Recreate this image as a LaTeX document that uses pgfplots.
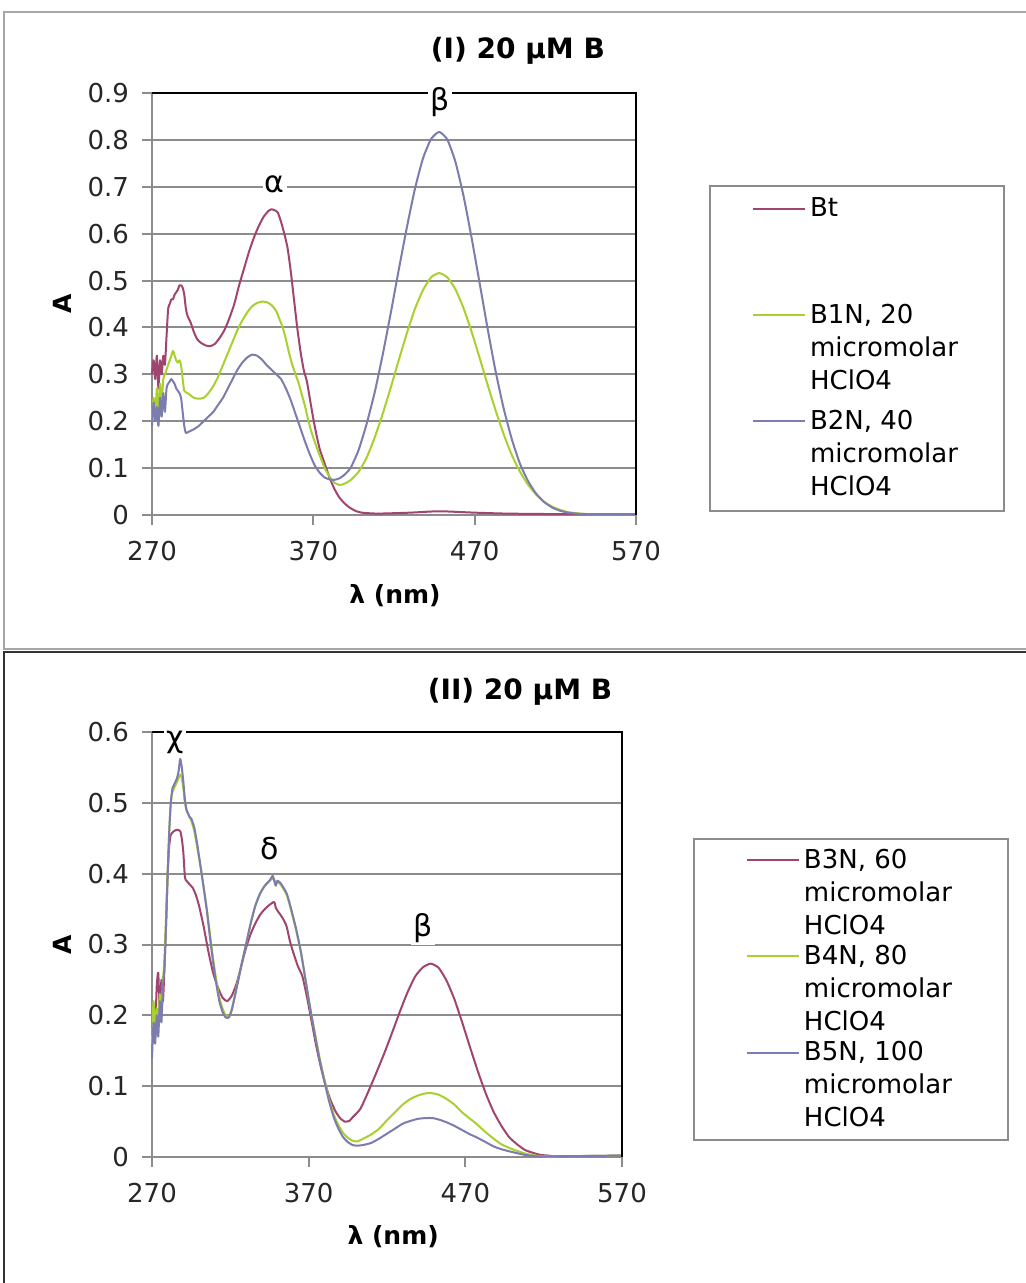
\documentclass[border=0pt]{standalone}
\usepackage{fontspec}
\setmainfont{DejaVu Sans}
\usepackage{pgfplots}
\usepackage{pgfplotstable}
\pgfplotsset{compat=1.18}

\definecolor{cA}{HTML}{A0456F}
\definecolor{cB}{HTML}{A9D12E}
\definecolor{cC}{HTML}{7C7CAF}
\definecolor{gridgray}{HTML}{8C8C8C}
\definecolor{framegray}{HTML}{A6A6A6}

% ---------- Panel I spectra ----------
\pgfplotstableread{
x y
270 0.30
271 0.33
272 0.29
273 0.34
274 0.27
275 0.33
276 0.30
277 0.34
278 0.32
279 0.38
280 0.44
281 0.45
282 0.46
283 0.46
284 0.47
285 0.475
286 0.48
287 0.49
288 0.49
289 0.485
290 0.47
291 0.44
292 0.425
294 0.41
296 0.39
298 0.375
300 0.368
303 0.362
306 0.36
309 0.365
312 0.378
315 0.395
318 0.42
321 0.45
324 0.49
327 0.525
330 0.56
333 0.59
336 0.615
339 0.635
342 0.648
344 0.652
346 0.65
348 0.645
350 0.625
352 0.60
354 0.57
356 0.52
358 0.46
360 0.40
362 0.35
364 0.31
366 0.285
368 0.245
370 0.205
372 0.17
374 0.14
376 0.12
378 0.10
380 0.08
383 0.056
386 0.038
389 0.026
392 0.017
396 0.009
400 0.005
410 0.003
430 0.005
448 0.008
470 0.005
490 0.003
520 0.002
570 0.002
}\tblBt

\pgfplotstableread{
x y
270 0.20
271 0.25
272 0.21
273 0.27
274 0.22
275 0.28
276 0.24
277 0.29
278 0.30
279 0.31
280 0.32
281 0.33
282 0.34
283 0.35
284 0.34
285 0.33
286 0.325
287 0.33
288 0.32
289 0.29
290 0.265
292 0.26
294 0.255
296 0.25
299 0.248
302 0.25
305 0.26
308 0.275
311 0.295
314 0.32
317 0.345
320 0.37
323 0.395
326 0.415
329 0.432
332 0.445
335 0.452
338 0.455
341 0.454
344 0.448
347 0.435
349 0.418
351 0.40
353 0.375
355 0.345
357 0.32
359 0.30
361 0.28
363 0.255
365 0.23
367 0.20
369 0.175
371 0.155
373 0.135
375 0.118
377 0.10
379 0.088
381 0.077
383 0.069
386 0.064
388 0.065
390 0.068
393 0.074
398 0.092
403 0.122
408 0.165
413 0.216
418 0.272
423 0.331
428 0.388
433 0.440
438 0.480
443 0.507
448 0.516
453 0.507
458 0.482
463 0.442
468 0.392
473 0.336
478 0.278
483 0.223
488 0.172
493 0.128
498 0.093
503 0.065
508 0.044
513 0.028
518 0.018
523 0.011
528 0.006
533 0.004
540 0.002
570 0.002
}\tblBoneN

\pgfplotstableread{
x y
270 0.19
271 0.24
272 0.20
273 0.23
274 0.19
275 0.25
276 0.21
277 0.26
278 0.22
279 0.27
280 0.28
281 0.285
282 0.29
283 0.285
284 0.28
285 0.27
286 0.265
287 0.26
288 0.25
289 0.22
290 0.19
291 0.175
293 0.178
296 0.183
299 0.19
302 0.20
305 0.21
308 0.22
311 0.235
314 0.25
317 0.27
320 0.29
323 0.31
326 0.325
329 0.336
332 0.342
335 0.34
338 0.332
341 0.32
344 0.31
347 0.30
350 0.29
353 0.27
356 0.245
359 0.215
362 0.185
365 0.155
368 0.128
371 0.105
374 0.09
377 0.08
380 0.076
383 0.075
386 0.078
389 0.085
393 0.100
398 0.138
403 0.194
408 0.261
413 0.342
418 0.431
423 0.524
428 0.614
433 0.696
438 0.761
443 0.802
448 0.817
453 0.801
458 0.754
463 0.682
468 0.593
473 0.496
478 0.398
483 0.306
488 0.227
493 0.162
498 0.110
503 0.073
508 0.046
513 0.028
518 0.016
523 0.009
528 0.005
533 0.003
540 0.002
570 0.002
}\tblBtwoN

% ---------- Panel II spectra ----------
\pgfplotstableread{
x y
270 0.17
271 0.21
272 0.18
273 0.24
274 0.26
275 0.20
276 0.25
277 0.22
278 0.27
279 0.33
280 0.40
281 0.44
282 0.455
284 0.46
286 0.462
288 0.46
289 0.45
290 0.43
291 0.395
292 0.39
294 0.385
296 0.38
298 0.37
300 0.355
303 0.325
306 0.29
309 0.26
312 0.24
315 0.225
318 0.22
321 0.228
324 0.245
327 0.27
330 0.295
333 0.315
336 0.33
339 0.342
342 0.35
345 0.356
348 0.36
349 0.352
350 0.348
352 0.342
354 0.335
356 0.325
358 0.305
360 0.29
363 0.27
366 0.255
369 0.225
372 0.19
375 0.155
378 0.125
381 0.10
384 0.08
387 0.065
390 0.055
393 0.05
396 0.051
398 0.056
403 0.068
408 0.092
413 0.118
418 0.145
423 0.174
428 0.204
433 0.232
438 0.255
443 0.268
448 0.273
453 0.267
458 0.249
463 0.223
468 0.190
473 0.155
478 0.121
483 0.090
488 0.064
493 0.044
498 0.028
503 0.018
508 0.010
513 0.006
518 0.003
523 0.002
530 0.001
570 0.002
}\tblBthreeN

\pgfplotstableread{
x y
270 0.16
271 0.22
272 0.17
273 0.21
274 0.19
275 0.23
276 0.20
277 0.25
278 0.28
279 0.34
280 0.40
281 0.46
282 0.50
283 0.515
284 0.52
286 0.53
288 0.54
289 0.535
290 0.52
291 0.50
292 0.49
293 0.485
294 0.48
295 0.475
297 0.46
299 0.435
301 0.41
303 0.38
305 0.35
307 0.315
309 0.28
311 0.25
313 0.225
315 0.21
317 0.20
319 0.198
321 0.21
324 0.24
327 0.27
330 0.30
333 0.33
336 0.355
339 0.372
342 0.383
345 0.39
347 0.393
348 0.392
349 0.385
350 0.388
352 0.385
354 0.378
356 0.37
358 0.355
360 0.338
362 0.32
365 0.29
368 0.25
371 0.21
374 0.175
377 0.14
380 0.11
383 0.082
386 0.06
389 0.045
392 0.034
395 0.027
398 0.023
401 0.022
405 0.026
410 0.032
415 0.04
420 0.052
425 0.063
430 0.074
435 0.082
440 0.087
445 0.09
449 0.09
453 0.088
458 0.082
463 0.074
468 0.063
473 0.054
477 0.047
483 0.035
488 0.026
493 0.018
500 0.011
508 0.005
515 0.002
525 0.001
570 0.002
}\tblBfourN

\pgfplotstableread{
x y
270 0.14
271 0.19
272 0.16
273 0.20
274 0.17
275 0.22
276 0.19
277 0.24
278 0.27
279 0.33
280 0.40
281 0.46
282 0.50
283 0.52
284 0.525
285 0.53
286 0.535
287 0.545
288 0.562
289 0.55
290 0.53
291 0.505
292 0.49
293 0.485
294 0.48
295 0.478
297 0.465
299 0.44
301 0.41
303 0.38
305 0.348
307 0.31
309 0.275
311 0.245
313 0.22
315 0.205
317 0.197
319 0.197
321 0.208
324 0.238
327 0.27
330 0.30
333 0.33
336 0.355
339 0.372
342 0.383
345 0.39
347 0.397
348 0.39
349 0.383
350 0.39
352 0.387
354 0.38
356 0.372
358 0.357
360 0.34
362 0.322
365 0.29
368 0.25
371 0.21
374 0.172
377 0.137
380 0.107
383 0.079
386 0.056
389 0.04
392 0.028
395 0.021
398 0.017
401 0.016
405 0.017
410 0.02
415 0.026
420 0.033
425 0.04
430 0.047
435 0.051
440 0.054
445 0.055
449 0.055
453 0.053
458 0.049
463 0.044
468 0.038
473 0.032
477 0.028
483 0.021
488 0.015
493 0.011
500 0.007
508 0.003
515 0.001
525 0.001
570 0.002
}\tblBfiveN

\tikzset{peaklabel/.style={fill=white, inner sep=1pt, font=\fontsize{15}{18}\selectfont}}

\pgfplotsset{
  spectrum/.style={
    scale only axis,
    anchor=south west,
    xmin=270, xmax=570,
    xtick={270,370,470,570},
    ymin=0,
    axis x line*=bottom,
    axis y line*=left,
    axis line style={gridgray, line width=1pt},
    ymajorgrids,
    major grid style={gridgray, line width=1pt},
    tick align=outside,
    major tick length=5pt,
    tick style={gridgray, line width=1pt},
    ticklabel style={font=\fontsize{13}{15}\selectfont, text=black!85},
    xticklabel style={yshift=-4.5pt},
    yticklabel style={xshift=-3pt},
    /pgf/number format/assume math mode=true,
    yticklabel style={/pgf/number format/fixed, /pgf/number format/precision=1},
    title style={font=\bfseries\fontsize{14}{16}\selectfont, anchor=center},
    xlabel style={font=\bfseries\fontsize{12.5}{15}\selectfont, anchor=center},
    ylabel style={font=\bfseries\fontsize{12.5}{15}\selectfont, anchor=center},
    xlabel={λ (nm)},
    ylabel={A},
    every axis plot/.append style={line width=1pt, line join=round, smooth, tension=0.35},
    legend cell align=left,
    % the key line sits beside the first line of its three-line entry
    legend image code/.code={\draw[#1] (0pt,16.5pt) -- (26pt,16.5pt);},
    clip=false,
  },
}

\begin{document}
\begin{tikzpicture}
\path[use as bounding box] (0pt,0pt) rectangle (512.5pt,-641.5pt);
\fill[white] (0pt,0pt) rectangle (512.5pt,-641.5pt);
% panel frames
\draw[framegray, line width=1pt] (520pt,-6pt) -- (2pt,-6pt) -- (2pt,-324.5pt) -- (520pt,-324.5pt);
\draw[black!80, line width=1.2pt] (520pt,-326pt) -- (2pt,-326pt) -- (2pt,-650pt);

% ---------- Panel I ----------
\begin{axis}[spectrum,
  at={(76pt,-257.5pt)},
  width=242pt, height=211pt,
  ymax=0.9, ytick={0,0.1,...,0.9},
  title={(I) 20 μM B},
  title style={at={(0.756,1.071)}},
  xlabel style={at={(0.502,-0.19)}},
  ylabel style={at={(-0.186,0.5)}},
  legend style={at={(1.151,0.782)}, anchor=north west, draw=gridgray,
    line width=1pt, inner xsep=21pt, inner ysep=4pt, row sep=5pt,
    font=\fontsize{13}{16.5}\selectfont, cells={align=left}},
]
\addplot[cA] table {\tblBt};
\addlegendentry{Bt\\\strut\\\strut}
\addplot[cB] table {\tblBoneN};
\addlegendentry{B1N, 20\\micromolar\\HClO4}
\addplot[cC] table {\tblBtwoN};
\addlegendentry{B2N, 40\\micromolar\\HClO4}
\draw[black, line width=1pt] (rel axis cs:0,1) -- (rel axis cs:1,1) -- (rel axis cs:1,0);
\node[peaklabel] at (axis cs:346,0.705) {α};
\node[peaklabel] at (axis cs:448.5,0.88) {β};
\end{axis}

% ---------- Panel II ----------
\begin{axis}[spectrum,
  at={(76pt,-578.5pt)},
  width=235pt, height=212.5pt,
  ymax=0.6, ytick={0,0.1,...,0.6},
  title={(II) 20 μM B},
  title style={at={(0.783,1.066)}},
  xlabel style={at={(0.513,-0.188)}},
  ylabel style={at={(-0.191,0.5)}},
  legend style={at={(1.151,0.7506)}, anchor=north west, draw=gridgray,
    line width=1pt, inner xsep=26pt, inner ysep=3pt, row sep=0pt,
    font=\fontsize{13}{16.5}\selectfont, cells={align=left}},
]
\addplot[cA] table {\tblBthreeN};
\addlegendentry{B3N, 60\\micromolar\\HClO4}
\addplot[cB] table {\tblBfourN};
\addlegendentry{B4N, 80\\micromolar\\HClO4}
\addplot[cC] table {\tblBfiveN};
\addlegendentry{B5N, 100\\micromolar\\HClO4}
\draw[black, line width=1pt] (rel axis cs:0,1) -- (rel axis cs:1,1) -- (rel axis cs:1,0);
\node[peaklabel] at (axis cs:284.7,0.585) {χ};
\node[peaklabel] at (axis cs:345.3,0.436) {δ};
\node[peaklabel] at (axis cs:443,0.323) {β};
\end{axis}
\end{tikzpicture}
\end{document}
